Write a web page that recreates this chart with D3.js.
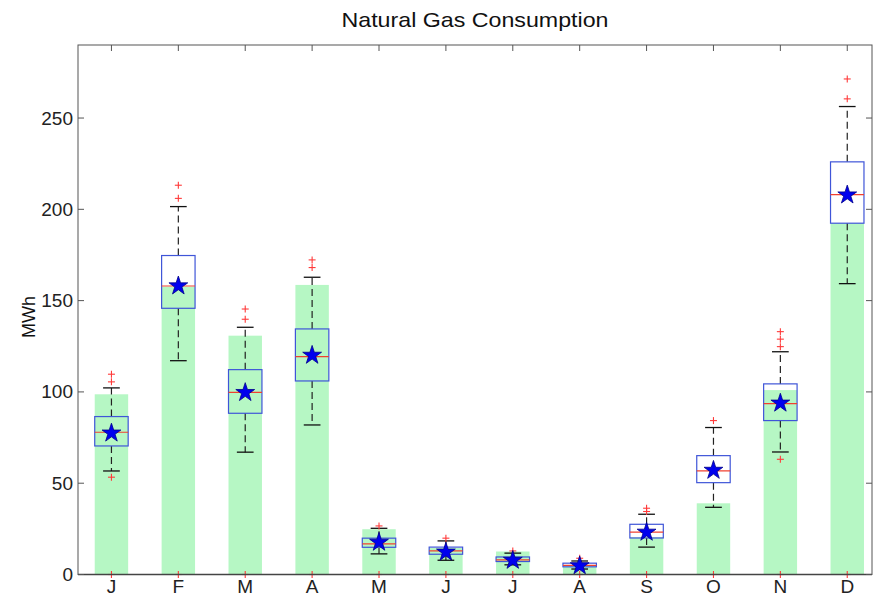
<!DOCTYPE html>
<html>
<head>
<meta charset="utf-8">
<script src="https://cdn.jsdelivr.net/npm/d3@7"></script>
<style>
  html, body { margin: 0; padding: 0; background: #fff; }
  svg { display: block; font-family: "Liberation Sans", Arial, sans-serif; }
</style>
</head>
<body>
<svg id="chart" width="874" height="597"></svg>
<script>
// ---- data ----
const months = ["J", "F", "M", "A", "M", "J", "J", "A", "S", "O", "N", "D"];
const barValues   = [98.7, 157.6, 130.8, 158.6, 24.8, 14.5, 12.6, 4.6, 20.4, 39.0, 101.0, 192.4];
const q1          = [70.4, 145.8, 88.3, 106.0, 14.9, 11.1, 7.1, 4.2, 20.0, 50.3, 84.3, 192.4];
const medians     = [77.9, 158.0, 99.8, 119.3, 16.8, 12.9, 8.0, 5.0, 23.2, 56.7, 93.6, 208.0];
const q3          = [86.5, 174.7, 112.2, 134.5, 19.9, 15.0, 9.6, 6.2, 27.5, 65.1, 104.4, 226.0];
const whiskerLow  = [56.7, 117.1, 67.0, 81.9, 11.3, 7.8, 5.3, 3.0, 15.0, 36.8, 67.1, 159.3];
const whiskerHigh = [102.2, 201.5, 135.4, 162.8, 25.3, 18.4, 11.7, 7.4, 33.0, 80.5, 122.0, 256.3];
const means       = [78.0, 158.6, 100.2, 120.6, 18.2, 12.8, 8.3, 5.3, 23.7, 57.6, 94.4, 208.4];
const outliers = [
  [109.7, 105.5, 53.3, 0],
  [213.2, 206.0, 0],
  [145.4, 139.8, 0],
  [172.3, 168.1, 0],
  [26.6, 0],
  [19.9, 0],
  [12.9, 0],
  [8.9, 0],
  [36.3, 34.5, 0],
  [84.3, 0],
  [133.0, 128.9, 124.8, 63.1, 0],
  [271.4, 260.5, 0]
];
const yTicks = [0, 50, 100, 150, 200, 250];
const titleText = "Natural Gas Consumption";
const yLabel = "MWh";

// ---- layout ----
const svg = d3.select("#chart");
const L = 78, R = 872, T = 45, B = 574.5;
const x = d3.scaleLinear().domain([0.5, 12.37]).range([L, R]);
const y = d3.scaleLinear().domain([0, 290]).range([B, T]);
const idx = months.map((m, i) => i);
const unit = x(1) - x(0);

const g = svg.append("g");

// green bars
g.selectAll("rect.bar").data(idx).join("rect")
  .attr("class", "bar")
  .attr("x", i => x(i + 1) - unit * 0.25)
  .attr("width", unit * 0.5)
  .attr("y", i => y(barValues[i]))
  .attr("height", i => y(0) - y(barValues[i]))
  .attr("fill", "#b6f7c4");

// whiskers (dashed)
g.selectAll("line.wu").data(idx).join("line")
  .attr("x1", i => x(i + 1)).attr("x2", i => x(i + 1))
  .attr("y1", i => y(q3[i])).attr("y2", i => y(whiskerHigh[i]))
  .attr("stroke", "#222").attr("stroke-width", 1.2).attr("stroke-dasharray", "7,4");
g.selectAll("line.wl").data(idx).join("line")
  .attr("x1", i => x(i + 1)).attr("x2", i => x(i + 1))
  .attr("y1", i => y(q1[i])).attr("y2", i => y(whiskerLow[i]))
  .attr("stroke", "#222").attr("stroke-width", 1.2).attr("stroke-dasharray", "7,4");

// caps
[whiskerHigh, whiskerLow].forEach(arr => {
  g.selectAll(null).data(idx).join("line")
    .attr("x1", i => x(i + 1) - unit * 0.125)
    .attr("x2", i => x(i + 1) + unit * 0.125)
    .attr("y1", i => y(arr[i])).attr("y2", i => y(arr[i]))
    .attr("stroke", "#111").attr("stroke-width", 1.3);
});

// boxes
g.selectAll("rect.box").data(idx).join("rect")
  .attr("class", "box")
  .attr("x", i => x(i + 1) - unit * 0.25)
  .attr("width", unit * 0.5)
  .attr("y", i => y(q3[i]))
  .attr("height", i => y(q1[i]) - y(q3[i]))
  .attr("fill", "none")
  .attr("stroke", "#3f55d8").attr("stroke-width", 1.2);

// medians
g.selectAll("line.med").data(idx).join("line")
  .attr("x1", i => x(i + 1) - unit * 0.25)
  .attr("x2", i => x(i + 1) + unit * 0.25)
  .attr("y1", i => y(medians[i])).attr("y2", i => y(medians[i]))
  .attr("stroke", "#f04030").attr("stroke-width", 1.2);

// outliers as red plus signs
const outPts = [];
outliers.forEach((arr, i) => arr.forEach(v => outPts.push({ i, v })));
const ps = 3.5;
const og = g.selectAll("g.out").data(outPts).join("g")
  .attr("transform", d => `translate(${x(d.i + 1)},${y(d.v)})`);
og.append("line").attr("x1", -ps).attr("x2", ps).attr("y1", 0).attr("y2", 0)
  .attr("stroke", "#ff3a3a").attr("stroke-width", 1.1);
og.append("line").attr("x1", 0).attr("x2", 0).attr("y1", -ps).attr("y2", ps)
  .attr("stroke", "#ff3a3a").attr("stroke-width", 1.1);

// means as blue stars
g.selectAll("path.mean").data(idx).join("path")
  .attr("transform", i => `translate(${x(i + 1)},${y(means[i]) + 1})`)
  .attr("d", d3.symbol().type(d3.symbolStar).size(110))
  .attr("fill", "#0000ee").attr("stroke", "#00008a").attr("stroke-width", 0.8);

// ---- axes frame ----
const axisColor = "#555";
svg.append("rect").attr("x", L).attr("y", T).attr("width", R - L).attr("height", B - T)
  .attr("fill", "none").attr("stroke", axisColor).attr("stroke-width", 1);
svg.append("line").attr("x1", L).attr("x2", R).attr("y1", B).attr("y2", B)
  .attr("stroke", "#444").attr("stroke-width", 1.5);

const tl = 6;
yTicks.forEach(t => {
  svg.append("line").attr("x1", L).attr("x2", L + tl).attr("y1", y(t)).attr("y2", y(t))
    .attr("stroke", axisColor);
  svg.append("line").attr("x1", R).attr("x2", R - tl).attr("y1", y(t)).attr("y2", y(t))
    .attr("stroke", axisColor);
});
idx.forEach(i => {
  svg.append("line").attr("x1", x(i + 1)).attr("x2", x(i + 1)).attr("y1", T).attr("y2", T + tl)
    .attr("stroke", axisColor);
});

// tick labels
svg.selectAll("text.yt").data(yTicks).join("text")
  .attr("x", L - 5).attr("y", t => y(t) + 6.5)
  .attr("text-anchor", "end").attr("font-size", 19).attr("fill", "#222")
  .text(t => t);
svg.selectAll("text.xt").data(idx).join("text")
  .attr("x", i => x(i + 1)).attr("y", B + 18)
  .attr("text-anchor", "middle").attr("font-size", 19).attr("fill", "#222")
  .text(i => months[i]);

// title & y label
svg.append("text").attr("x", (L + R) / 2).attr("y", 27)
  .attr("text-anchor", "middle").attr("font-size", 21).attr("fill", "#111")
  .attr("textLength", 267).attr("lengthAdjust", "spacingAndGlyphs")
  .text(titleText);
svg.append("text").attr("transform", `translate(35,317) rotate(-90)`)
  .attr("text-anchor", "middle").attr("font-size", 18).attr("fill", "#111")
  .text(yLabel);
</script>
</body>
</html>
